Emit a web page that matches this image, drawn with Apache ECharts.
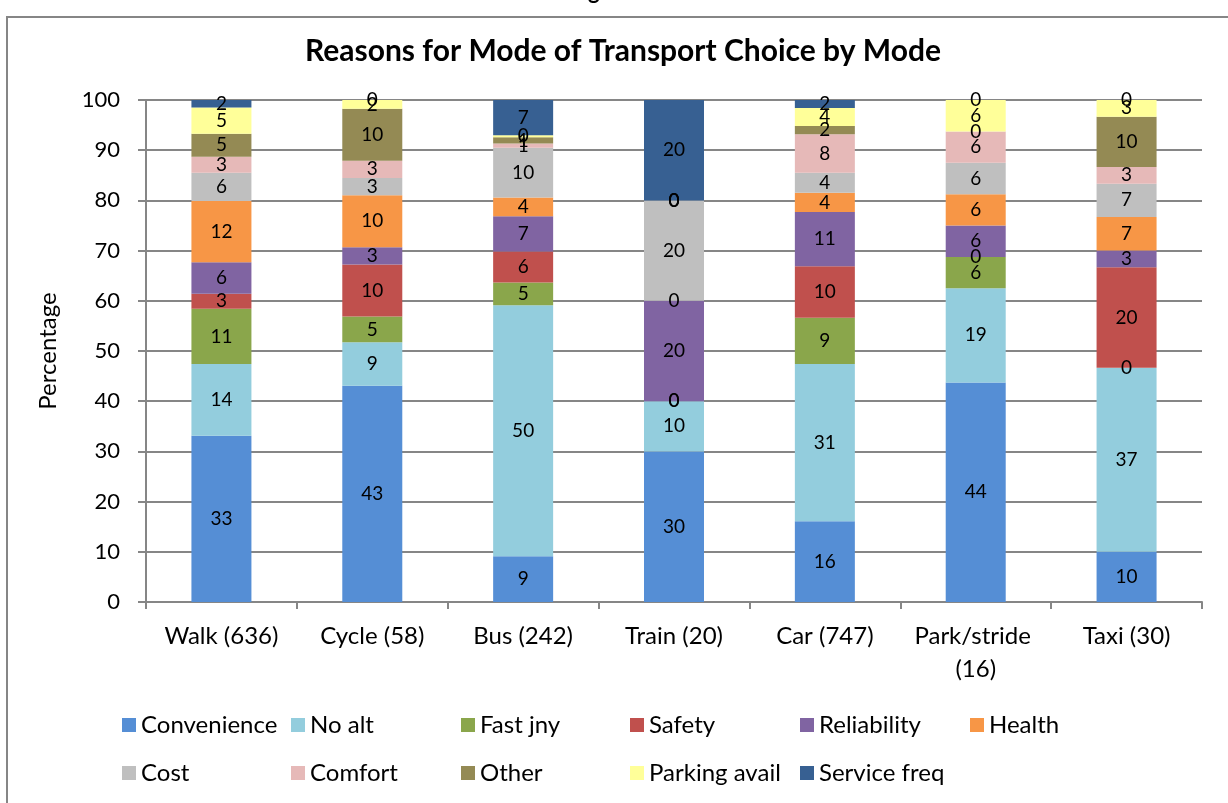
<!DOCTYPE html>
<html lang="en">
<head>
    <meta charset="UTF-8">
    <title>Reasons for Mode of Transport Choice by Mode</title>
    <script src="https://cdn.jsdelivr.net/npm/echarts@6/dist/echarts.min.js"></script>
    <style>
        html, body { margin: 0; padding: 0; background: #fff; }
        #main { width: 1228px; height: 803px; }
    </style>
</head>
<body>
<div id="main"></div>
<script>
    // modes (sample size in brackets)
    var modes = ['Walk (636)', 'Cycle (58)', 'Bus (242)', 'Train (20)', 'Car (747)', 'Park/stride (16)', 'Taxi (30)'];

    // percentage of respondents per reason, one value per mode
    var convenience  = [33.1, 43.10, 9.09, 30, 16.1, 43.75, 10];
    var noAlt        = [14.3, 8.62, 50.0, 10, 31.3, 18.75, 36.67];
    var fastJny      = [11.0, 5.17, 4.55, 0, 9.2, 6.25, 0];
    var safety       = [3.0, 10.34, 6.20, 0, 10.3, 0, 20];
    var reliability  = [6.3, 3.45, 7.02, 20, 10.8, 6.25, 3.33];
    var health       = [12.2, 10.34, 3.72, 0, 3.8, 6.25, 6.67];
    var cost         = [5.6, 3.45, 9.92, 20, 4.0, 6.25, 6.67];
    var comfort      = [3.2, 3.45, 0.83, 0, 7.7, 6.25, 3.33];
    var other        = [4.6, 10.34, 1.24, 0, 1.6, 0, 10];
    var parkingAvail = [5.2, 1.72, 0.41, 0, 3.6, 6.25, 3.33];
    var serviceFreq  = [1.5, 0, 7.02, 20, 1.6, 0, 0];

    var reasons = [
        {name: 'Convenience', data: convenience, color: '#558ed5'},
        {name: 'No alt', data: noAlt, color: '#93cddd'},
        {name: 'Fast jny', data: fastJny, color: '#8aa64b'},
        {name: 'Safety', data: safety, color: '#c0504d'},
        {name: 'Reliability', data: reliability, color: '#8064a2'},
        {name: 'Health', data: health, color: '#f79646'},
        {name: 'Cost', data: cost, color: '#bfbfbf'},
        {name: 'Comfort', data: comfort, color: '#e6b9b8'},
        {name: 'Other', data: other, color: '#948a54'},
        {name: 'Parking avail', data: parkingAvail, color: '#ffff99'},
        {name: 'Service freq', data: serviceFreq, color: '#376092'}
    ];

    var font = 'Lato, Carlito, Calibri, sans-serif';
    var legendCols = [122, 291, 461, 630, 800, 970];
    var legendRows = [712, 760];

    var legends = reasons.map(function (r, i) {
        return {
            data: [r.name],
            left: legendCols[i % 6],
            top: legendRows[Math.floor(i / 6)],
            padding: 0,
            icon: 'rect',
            itemWidth: 14,
            itemHeight: 14,
            selectedMode: false,
            textStyle: {fontFamily: font, fontSize: 24, color: '#000', lineHeight: 26}
        };
    });

    var series = reasons.map(function (r) {
        return {
            name: r.name,
            type: 'bar',
            stack: 'total',
            barWidth: 60,
            data: r.data,
            itemStyle: {color: r.color},
            label: {
                show: true,
                position: 'inside',
                fontFamily: font,
                fontSize: 19,
                color: '#000',
                formatter: function (p) { return Math.round(p.value); }
            }
        };
    });

    var myChart = echarts.init(document.getElementById('main'));
    var option = {
        animation: false,
        backgroundColor: '#fff',
        title: {
            text: 'Reasons for Mode of Transport Choice by Mode',
            left: 300,
            top: 31,
            textStyle: {fontFamily: font, fontSize: 30, fontWeight: 'bold', color: '#000'}
        },
        graphic: [
            {
                type: 'rect',
                shape: {x: 7, y: 17, width: 1240, height: 820},
                style: {fill: null, stroke: '#868686', lineWidth: 2}
            },
            {
                type: 'text',
                x: 570,
                y: 3,
                style: {text: 'Figure', font: 'bold 22px ' + font, fill: '#000', textVerticalAlign: 'bottom'}
            }
        ],
        legend: legends,
        grid: {left: 146, right: 26, top: 100, bottom: 201},
        xAxis: {
            type: 'category',
            data: modes,
            axisLine: {lineStyle: {color: '#868686', width: 2}},
            axisTick: {show: true, length: 7, lineStyle: {color: '#868686', width: 2}},
            axisLabel: {
                fontFamily: font, fontSize: 24, color: '#000', margin: 18,
                width: 145, overflow: 'break', lineHeight: 33, interval: 0
            }
        },
        yAxis: {
            type: 'value',
            min: 0,
            max: 100,
            interval: 10,
            name: 'Percentage',
            nameLocation: 'middle',
            nameGap: 86,
            nameTextStyle: {fontFamily: font, fontSize: 24, color: '#000'},
            axisLine: {show: true, lineStyle: {color: '#868686', width: 2}},
            axisTick: {show: true, length: 8, lineStyle: {color: '#868686', width: 2}},
            axisLabel: {fontFamily: font, fontSize: 22, color: '#000', margin: 26},
            splitLine: {lineStyle: {color: '#868686', width: 2}}
        },
        series: series
    };
    myChart.setOption(option);
</script>
</body>
</html>
